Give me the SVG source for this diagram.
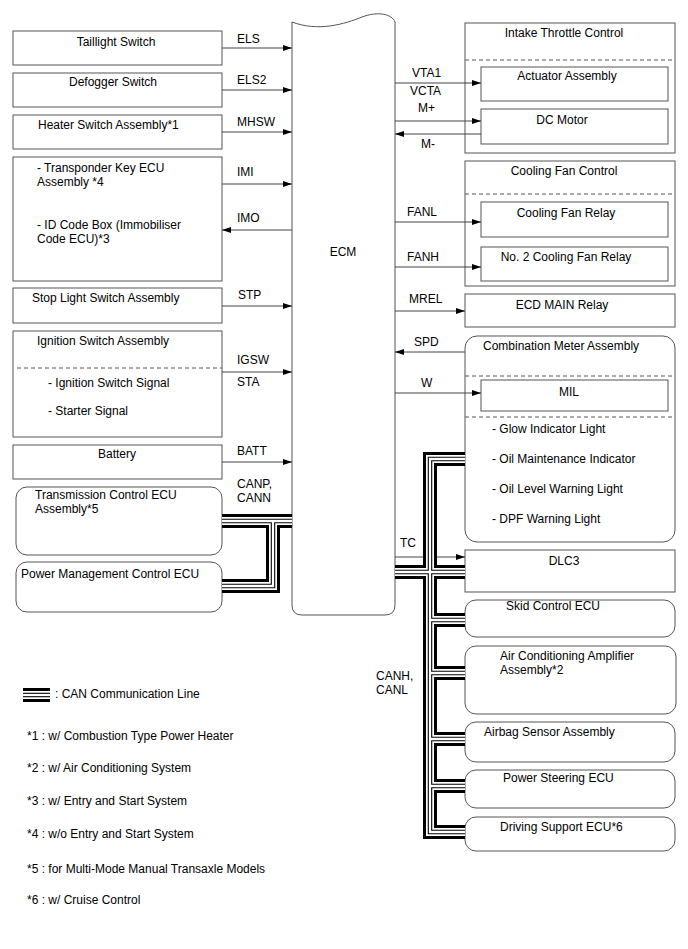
<svg xmlns="http://www.w3.org/2000/svg" width="688" height="949" viewBox="0 0 688 949">
<style>
.t{font-family:"Liberation Sans",Arial,sans-serif;font-size:12px;fill:#000}
.m{text-anchor:middle}
.box{fill:#fff;stroke:#555;stroke-width:1}
.dash{fill:none;stroke:#555;stroke-width:1;stroke-dasharray:4,3}
.w{fill:none;stroke:#444;stroke-width:1}
.a{marker-end:url(#ah)}
.c1{fill:none;stroke:#000;stroke-width:14}
.c2{fill:none;stroke:#fff;stroke-width:8}
.c3{fill:none;stroke:#000;stroke-width:4.5}
.c4{fill:none;stroke:#fff;stroke-width:2.3}
</style>
<defs>
<marker id="ah" markerUnits="userSpaceOnUse" markerWidth="9" markerHeight="6" refX="9" refY="3" orient="auto">
<path d="M0,0 L9,3 L0,6 Z" fill="#000"/>
</marker>
<path id="canL" d="M292,521 H222 M273,521 V586 H222"/>
<path id="canR" d="M395,572 H465 M465,459 H430 V832 H465 M430,620 H465 M430,673 H465 M430,739 H465 M430,786 H465"/>
<path id="canLeg" d="M23,695 H50"/>
</defs>
<rect width="688" height="949" fill="#fff"/>

<g id="ecm">
<path class="box" d="M292,22 C318,32 345,24 362,17 C378,11 392,14 395,22 V605 Q395,615 385,615 H302 Q292,615 292,605 Z"/>
<text class="t m" x="343" y="256">ECM</text>
</g>

<g id="taillight-switch">
<rect class="box" x="13" y="31" width="209" height="34"/>
<text class="t m" x="116" y="46">Taillight Switch</text>
</g>
<g id="defogger-switch">
<rect class="box" x="13" y="73" width="209" height="34"/>
<text class="t m" x="113" y="86">Defogger Switch</text>
</g>
<g id="heater-switch">
<rect class="box" x="13" y="115" width="209" height="34"/>
<text class="t" x="38" y="129">Heater Switch Assembly*1</text>
</g>
<g id="transponder">
<rect class="box" x="13" y="157" width="209" height="124"/>
<text class="t" x="37" y="172">- Transponder Key ECU</text>
<text class="t" x="37" y="186">Assembly *4</text>
<text class="t" x="37" y="229">- ID Code Box (Immobiliser</text>
<text class="t" x="37" y="243">Code ECU)*3</text>
</g>
<g id="stop-light">
<rect class="box" x="13" y="288" width="209" height="35"/>
<text class="t" x="32" y="302">Stop Light Switch Assembly</text>
</g>
<g id="ignition-switch">
<rect class="box" x="13" y="331" width="209" height="106"/>
<text class="t" x="37" y="345">Ignition Switch Assembly</text>
<line class="dash" x1="17" y1="368" x2="222" y2="368"/>
<text class="t" x="48" y="387">- Ignition Switch Signal</text>
<text class="t" x="48" y="415">- Starter Signal</text>
</g>
<g id="battery">
<rect class="box" x="13" y="445" width="209" height="34"/>
<text class="t m" x="117" y="458">Battery</text>
</g>
<g id="transmission-ecu">
<rect class="box" x="16" y="487" width="206" height="68" rx="11"/>
<text class="t" x="35" y="499">Transmission Control ECU</text>
<text class="t" x="35" y="513">Assembly*5</text>
</g>
<g id="power-mgmt-ecu">
<rect class="box" x="16" y="562" width="206" height="50" rx="11"/>
<text class="t" x="21" y="578">Power Management Control ECU</text>
</g>

<g id="intake-throttle">
<rect class="box" x="465" y="23" width="210" height="130"/>
<text class="t m" x="564" y="37">Intake Throttle Control</text>
<line class="dash" x1="465" y1="60" x2="675" y2="60"/>
</g>
<g id="actuator">
<rect class="box" x="481" y="67" width="187" height="34"/>
<text class="t m" x="567" y="80">Actuator Assembly</text>
</g>
<g id="dc-motor">
<rect class="box" x="481" y="109" width="187" height="35"/>
<text class="t m" x="562" y="124">DC Motor</text>
</g>
<g id="cooling-fan-control">
<rect class="box" x="465" y="161" width="210" height="125"/>
<text class="t m" x="564" y="175">Cooling Fan Control</text>
<line class="dash" x1="465" y1="194" x2="675" y2="194"/>
</g>
<g id="cooling-fan-relay">
<rect class="box" x="481" y="202" width="187" height="35"/>
<text class="t m" x="566" y="217">Cooling Fan Relay</text>
</g>
<g id="no2-cooling-fan-relay">
<rect class="box" x="481" y="247" width="187" height="34"/>
<text class="t m" x="566" y="261">No. 2 Cooling Fan Relay</text>
</g>
<g id="ecd-main-relay">
<rect class="box" x="465" y="294" width="210" height="33"/>
<text class="t m" x="562" y="309">ECD MAIN Relay</text>
</g>
<g id="combination-meter">
<rect class="box" x="465" y="336" width="210" height="206" rx="12"/>
<text class="t" x="483" y="350">Combination Meter Assembly</text>
<line class="dash" x1="465" y1="376" x2="675" y2="376"/>
<line class="dash" x1="465" y1="417" x2="675" y2="417"/>
<text class="t" x="492" y="433">- Glow Indicator Light</text>
<text class="t" x="492" y="463">- Oil Maintenance Indicator</text>
<text class="t" x="492" y="493">- Oil Level Warning Light</text>
<text class="t" x="492" y="523">- DPF Warning Light</text>
</g>
<g id="mil">
<rect class="box" x="481" y="380" width="187" height="31"/>
<text class="t m" x="569" y="396">MIL</text>
</g>
<g id="dlc3">
<rect class="box" x="465" y="550" width="210" height="42"/>
<text class="t m" x="564" y="565">DLC3</text>
</g>
<g id="skid-control-ecu">
<rect class="box" x="465" y="600" width="210" height="37" rx="11"/>
<text class="t m" x="553" y="610">Skid Control ECU</text>
</g>
<g id="aircon-amplifier">
<rect class="box" x="465" y="646" width="211" height="68" rx="11"/>
<text class="t" x="500" y="660">Air Conditioning Amplifier</text>
<text class="t" x="500" y="674">Assembly*2</text>
</g>
<g id="airbag-sensor">
<rect class="box" x="465" y="722" width="210" height="40" rx="11"/>
<text class="t" x="484" y="736">Airbag Sensor Assembly</text>
</g>
<g id="power-steering-ecu">
<rect class="box" x="465" y="770" width="210" height="38" rx="11"/>
<text class="t" x="503" y="782">Power Steering ECU</text>
</g>
<g id="driving-support-ecu">
<rect class="box" x="465" y="817" width="210" height="34" rx="11"/>
<text class="t" x="500" y="831">Driving Support ECU*6</text>
</g>

<g id="connectors">
<line class="w a" x1="222" y1="48" x2="292" y2="48"/>
<text class="t" x="237" y="43">ELS</text>
<line class="w a" x1="222" y1="90" x2="292" y2="90"/>
<text class="t" x="237" y="84">ELS2</text>
<line class="w a" x1="222" y1="132" x2="292" y2="132"/>
<text class="t" x="237" y="126">MHSW</text>
<line class="w a" x1="222" y1="184" x2="292" y2="184"/>
<text class="t" x="237" y="176">IMI</text>
<line class="w a" x1="292" y1="230" x2="222" y2="230"/>
<text class="t" x="237" y="222">IMO</text>
<line class="w a" x1="222" y1="306" x2="292" y2="306"/>
<text class="t" x="238" y="299">STP</text>
<line class="w a" x1="222" y1="372" x2="292" y2="372"/>
<text class="t" x="237" y="364">IGSW</text>
<text class="t" x="237" y="386">STA</text>
<line class="w a" x1="222" y1="462" x2="292" y2="462"/>
<text class="t" x="237" y="455">BATT</text>
<text class="t" x="237" y="488">CANP,</text>
<text class="t" x="237" y="502">CANN</text>

<line class="w a" x1="395" y1="83" x2="481" y2="83"/>
<text class="t" x="412" y="77">VTA1</text>
<text class="t" x="410" y="95">VCTA</text>
<text class="t" x="418" y="112">M+</text>
<line class="w a" x1="395" y1="121" x2="481" y2="121"/>
<line class="w a" x1="481" y1="134" x2="395" y2="134"/>
<text class="t" x="421" y="148">M-</text>
<line class="w a" x1="395" y1="222" x2="481" y2="222"/>
<text class="t" x="407" y="216">FANL</text>
<line class="w a" x1="395" y1="267" x2="481" y2="267"/>
<text class="t" x="407" y="261">FANH</text>
<line class="w a" x1="395" y1="311" x2="465" y2="311"/>
<text class="t" x="409" y="303">MREL</text>
<line class="w a" x1="465" y1="352" x2="395" y2="352"/>
<text class="t" x="414" y="346">SPD</text>
<line class="w a" x1="395" y1="393" x2="481" y2="393"/>
<text class="t" x="421" y="387">W</text>
<line class="w a" x1="395" y1="557" x2="465" y2="557"/>
<text class="t" x="400" y="547">TC</text>
<text class="t" x="376" y="680">CANH,</text>
<text class="t" x="376" y="694">CANL</text>
</g>

<g id="can-bus">
<use href="#canL" class="c1"/><use href="#canR" class="c1"/>
<use href="#canL" class="c2"/><use href="#canR" class="c2"/>
<use href="#canL" class="c3"/><use href="#canR" class="c3"/>
<use href="#canL" class="c4"/><use href="#canR" class="c4"/>
</g>

<g id="legend">
<use href="#canLeg" class="c1"/>
<use href="#canLeg" class="c2"/>
<use href="#canLeg" class="c3"/>
<use href="#canLeg" class="c4"/>
<text class="t" x="55" y="698">: CAN Communication Line</text>
<text class="t" x="27" y="740">*1 : w/ Combustion Type Power Heater</text>
<text class="t" x="27" y="772">*2 : w/ Air Conditioning System</text>
<text class="t" x="27" y="805">*3 : w/ Entry and Start System</text>
<text class="t" x="27" y="838">*4 : w/o Entry and Start System</text>
<text class="t" x="27" y="873">*5 : for Multi-Mode Manual Transaxle Models</text>
<text class="t" x="27" y="904">*6 : w/ Cruise Control</text>
</g>
</svg>
